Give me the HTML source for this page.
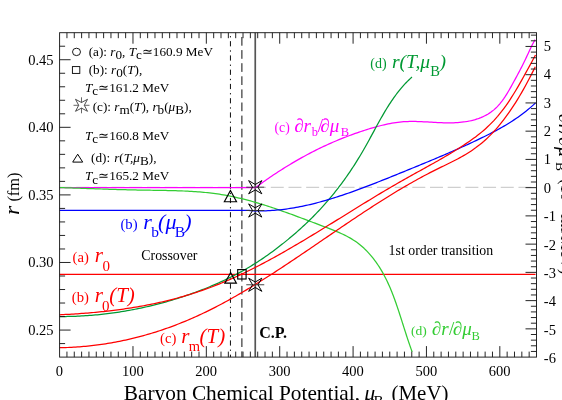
<!DOCTYPE html><html><head><meta charset="utf-8"><title>chart</title><style>
html,body{margin:0;padding:0;background:#fff;}body{width:562px;height:400px;overflow:hidden;}
svg{display:block;font-family:"Liberation Serif",serif;will-change:transform;}
.t{font-size:14.5px;fill:#000}.u{font-size:13.85px}.i{font-style:italic}
</style></head><body>
<svg width="562" height="400" viewBox="0 0 562 400">
<rect width="562" height="400" fill="#fff"/>
<line x1="59.60" y1="187.30" x2="536.50" y2="187.30" stroke="#c4c4c4" stroke-width="1" stroke-dasharray="13,4.69" stroke-dashoffset="1.1"/>
<line x1="230.45" y1="32.70" x2="230.45" y2="357.10" stroke="#000" stroke-width="0.95" stroke-dasharray="5.2,4.0,1.3,3.75" stroke-dashoffset="5.8"/>
<line x1="241.9" y1="32.70" x2="241.9" y2="357.10" stroke="#000" stroke-width="0.95" stroke-dasharray="8.7,4.4" stroke-dashoffset="8.8"/>
<line x1="255.25" y1="32.70" x2="255.25" y2="357.10" stroke="#555" stroke-width="1.7"/>
<path d="M59.60,274.4 L535.50,274.4" fill="none" stroke="#ff0000" stroke-width="1.25" stroke-linejoin="round"/>
<path d="M59.60,187.7 L255.2,187.7 L255.57,187.58 L257.14,186.42 L258.71,185.27 L260.30,184.12 L261.89,182.97 L263.49,181.83 L265.09,180.70 L266.71,179.57 L268.33,178.44 L269.96,177.32 L271.59,176.21 L273.23,175.10 L274.88,174.00 L276.54,172.91 L278.20,171.82 L279.87,170.74 L281.55,169.67 L283.23,168.61 L284.92,167.55 L286.62,166.50 L288.32,165.45 L290.03,164.42 L291.75,163.39 L293.47,162.37 L295.20,161.36 L296.93,160.36 L298.68,159.36 L300.42,158.38 L302.17,157.40 L303.93,156.43 L305.70,155.48 L307.47,154.53 L309.24,153.59 L311.02,152.66 L312.81,151.74 L314.60,150.83 L316.40,149.93 L318.20,149.04 L320.01,148.16 L321.83,147.29 L323.64,146.44 L325.47,145.59 L327.30,144.75 L329.13,143.92 L330.97,143.11 L332.81,142.30 L334.66,141.51 L336.51,140.72 L338.37,139.95 L340.23,139.18 L342.10,138.43 L343.97,137.69 L345.84,136.96 L347.72,136.23 L349.60,135.52 L351.49,134.82 L353.38,134.14 L355.28,133.46 L357.18,132.79 L359.08,132.13 L360.99,131.49 L362.90,130.85 L364.81,130.23 L366.73,129.62 L368.65,129.01 L370.58,128.43 L372.50,127.86 L374.43,127.30 L376.37,126.76 L378.31,126.24 L380.25,125.74 L382.19,125.26 L384.14,124.80 L386.09,124.37 L388.04,123.96 L390.00,123.58 L391.95,123.22 L393.91,122.90 L395.88,122.60 L397.84,122.34 L399.81,122.11 L401.78,121.91 L403.75,121.74 L405.73,121.62 L407.70,121.53 L409.68,121.47 L411.66,121.44 L413.65,121.44 L415.63,121.47 L417.62,121.51 L419.61,121.58 L421.60,121.66 L423.59,121.76 L425.58,121.86 L427.58,121.98 L429.57,122.09 L431.57,122.21 L433.57,122.33 L435.57,122.44 L437.57,122.55 L439.57,122.64 L441.57,122.73 L443.58,122.80 L445.58,122.84 L447.59,122.87 L449.59,122.87 L451.60,122.85 L453.61,122.80 L455.62,122.71 L457.62,122.58 L459.63,122.42 L461.62,122.22 L463.61,121.98 L465.59,121.70 L467.56,121.37 L469.51,120.99 L471.45,120.57 L473.36,120.09 L475.26,119.56 L477.13,118.97 L478.98,118.33 L480.81,117.62 L482.60,116.86 L484.36,116.03 L486.09,115.13 L487.78,114.17 L489.44,113.14 L491.05,112.04 L492.63,110.86 L494.16,109.61 L495.64,108.27 L497.07,106.86 L498.46,105.38 L499.81,103.83 L501.11,102.22 L502.37,100.56 L503.59,98.86 L504.78,97.12 L505.93,95.35 L507.05,93.56 L508.14,91.76 L509.20,89.95 L510.24,88.14 L511.25,86.34 L512.24,84.55 L513.21,82.79 L514.16,81.05 L515.09,79.34 L516.02,77.65 L516.92,75.97 L517.82,74.31 L518.70,72.64 L519.58,70.98 L520.45,69.32 L521.31,67.64 L522.17,65.96 L523.03,64.25 L523.88,62.52 L524.74,60.76 L525.60,58.97 L526.46,57.14 L527.32,55.28 L528.19,53.40 L529.07,51.50 L529.96,49.61 L530.86,47.72 L531.77,45.85 L532.69,44.01 L533.63,42.21 L534.59,40.46 L535.06,39.62" fill="none" stroke="#ff00ff" stroke-width="1.25" stroke-linejoin="round"/>
<path d="M59.74,187.57 L61.71,187.63 L63.67,187.69 L65.64,187.76 L67.61,187.82 L69.58,187.89 L71.56,187.96 L73.54,188.02 L75.52,188.09 L77.50,188.16 L79.48,188.23 L81.47,188.30 L83.45,188.37 L85.44,188.44 L87.43,188.51 L89.43,188.58 L91.42,188.65 L93.42,188.72 L95.41,188.79 L97.41,188.86 L99.41,188.93 L101.41,189.00 L103.41,189.07 L105.42,189.14 L107.42,189.20 L109.43,189.27 L111.43,189.33 L113.44,189.39 L115.45,189.46 L117.46,189.52 L119.47,189.58 L121.48,189.63 L123.49,189.69 L125.50,189.74 L127.51,189.79 L129.52,189.85 L131.54,189.89 L133.55,189.94 L135.56,189.98 L137.57,190.03 L139.59,190.06 L141.60,190.10 L143.61,190.14 L145.62,190.17 L147.64,190.20 L149.65,190.23 L151.66,190.25 L153.67,190.28 L155.68,190.31 L157.69,190.34 L159.70,190.37 L161.71,190.40 L163.72,190.43 L165.73,190.47 L167.74,190.51 L169.74,190.55 L171.75,190.60 L173.75,190.65 L175.76,190.71 L177.76,190.77 L179.76,190.84 L181.76,190.91 L183.76,191.00 L185.75,191.09 L187.75,191.18 L189.74,191.29 L191.73,191.40 L193.72,191.53 L195.71,191.66 L197.70,191.81 L199.68,191.96 L201.67,192.13 L203.65,192.31 L205.62,192.50 L207.60,192.71 L209.58,192.92 L211.55,193.16 L213.52,193.40 L215.49,193.66 L217.45,193.94 L219.41,194.23 L221.37,194.54 L223.33,194.87 L225.29,195.21 L227.24,195.56 L229.19,195.94 L231.14,196.33 L233.08,196.73 L235.02,197.15 L236.96,197.58 L238.90,198.02 L240.84,198.48 L242.77,198.96 L244.70,199.44 L246.63,199.94 L248.56,200.45 L250.48,200.97 L252.41,201.50 L254.33,202.05 L256.25,202.60 L258.17,203.17 L260.08,203.74 L262.00,204.32 L263.91,204.92 L265.82,205.52 L267.73,206.13 L269.64,206.75 L271.54,207.38 L273.45,208.02 L275.35,208.66 L277.25,209.31 L279.15,209.96 L281.05,210.63 L282.95,211.29 L284.85,211.97 L286.74,212.65 L288.64,213.33 L290.53,214.02 L292.42,214.71 L294.31,215.40 L296.20,216.10 L298.09,216.80 L299.98,217.51 L301.87,218.22 L303.75,218.93 L305.64,219.64 L307.52,220.35 L309.41,221.06 L311.29,221.77 L313.17,222.49 L315.06,223.20 L316.94,223.91 L318.82,224.63 L320.70,225.34 L322.58,226.05 L324.46,226.76 L326.34,227.46 L328.22,228.18 L330.09,228.89 L331.95,229.62 L333.81,230.36 L335.65,231.11 L337.49,231.87 L339.31,232.66 L341.12,233.46 L342.91,234.29 L344.69,235.15 L346.44,236.03 L348.18,236.95 L349.89,237.90 L351.58,238.88 L353.24,239.91 L354.88,240.98 L356.49,242.09 L358.07,243.25 L359.62,244.45 L361.13,245.70 L362.62,247.00 L364.08,248.33 L365.51,249.71 L366.91,251.12 L368.27,252.57 L369.61,254.06 L370.92,255.57 L372.20,257.12 L373.45,258.70 L374.67,260.30 L375.86,261.93 L377.02,263.59 L378.15,265.27 L379.25,266.96 L380.32,268.68 L381.37,270.41 L382.39,272.15 L383.37,273.91 L384.33,275.69 L385.26,277.47 L386.17,279.26 L387.05,281.06 L387.90,282.87 L388.74,284.70 L389.55,286.52 L390.34,288.36 L391.11,290.21 L391.86,292.06 L392.60,293.92 L393.31,295.79 L394.02,297.66 L394.71,299.54 L395.38,301.42 L396.05,303.31 L396.70,305.20 L397.35,307.09 L397.98,308.99 L398.61,310.90 L399.24,312.80 L399.86,314.71 L400.47,316.61 L401.08,318.52 L401.69,320.43 L402.30,322.34 L402.91,324.25 L403.51,326.16 L404.12,328.07 L404.73,329.98 L405.34,331.88 L405.96,333.79 L406.57,335.69 L407.20,337.58 L407.82,339.47 L408.45,341.36 L409.09,343.25 L409.74,345.13 L410.39,347.00 L411.05,348.87 L411.72,350.73 L412.15,351.89" fill="none" stroke="#33cc33" stroke-width="1.25" stroke-linejoin="round"/>
<path d="M59.78,316.53 L61.76,316.53 L63.73,316.53 L65.71,316.51 L67.68,316.48 L69.66,316.44 L71.64,316.39 L73.62,316.33 L75.60,316.26 L77.58,316.18 L79.56,316.09 L81.55,315.98 L83.53,315.87 L85.51,315.74 L87.50,315.61 L89.48,315.46 L91.47,315.31 L93.45,315.14 L95.44,314.96 L97.42,314.78 L99.41,314.58 L101.39,314.37 L103.38,314.15 L105.36,313.92 L107.34,313.68 L109.33,313.43 L111.31,313.17 L113.29,312.90 L115.27,312.62 L117.25,312.33 L119.23,312.03 L121.21,311.72 L123.19,311.39 L125.17,311.06 L127.14,310.72 L129.12,310.37 L131.09,310.01 L133.06,309.63 L135.03,309.25 L137.00,308.86 L138.96,308.45 L140.93,308.04 L142.89,307.62 L144.85,307.19 L146.81,306.74 L148.77,306.29 L150.72,305.83 L152.67,305.36 L154.62,304.88 L156.57,304.38 L158.51,303.88 L160.46,303.37 L162.39,302.85 L164.33,302.32 L166.26,301.78 L168.20,301.23 L170.12,300.67 L172.05,300.10 L173.97,299.52 L175.89,298.93 L177.80,298.33 L179.71,297.72 L181.62,297.11 L183.53,296.48 L185.43,295.84 L187.32,295.20 L189.22,294.54 L191.11,293.87 L192.99,293.20 L194.87,292.52 L196.75,291.82 L198.62,291.12 L200.49,290.41 L202.35,289.69 L204.21,288.96 L206.07,288.22 L207.92,287.47 L209.76,286.71 L211.61,285.94 L213.44,285.16 L215.27,284.37 L217.10,283.57 L218.92,282.76 L220.73,281.94 L222.54,281.10 L224.35,280.26 L226.15,279.40 L227.94,278.54 L229.73,277.66 L231.51,276.77 L233.29,275.87 L235.06,274.96 L236.83,274.03 L238.58,273.10 L240.34,272.15 L242.08,271.19 L243.82,270.21 L245.56,269.22 L247.29,268.22 L249.01,267.21 L250.72,266.18 L252.43,265.14 L254.13,264.09 L255.83,263.02 L257.51,261.94 L259.19,260.84 L260.87,259.73 L262.53,258.61 L264.19,257.48 L265.84,256.34 L267.49,255.18 L269.12,254.02 L270.75,252.84 L272.37,251.65 L273.99,250.46 L275.59,249.26 L277.19,248.04 L278.78,246.82 L280.36,245.60 L281.94,244.36 L283.50,243.12 L285.06,241.87 L286.61,240.62 L288.15,239.36 L289.68,238.09 L291.21,236.81 L292.72,235.52 L294.23,234.23 L295.73,232.93 L297.22,231.62 L298.70,230.31 L300.18,228.98 L301.64,227.65 L303.10,226.31 L304.55,224.96 L305.99,223.61 L307.42,222.24 L308.85,220.87 L310.26,219.48 L311.67,218.09 L313.06,216.69 L314.45,215.29 L315.83,213.87 L317.20,212.44 L318.57,211.01 L319.92,209.56 L321.26,208.11 L322.60,206.64 L323.93,205.17 L325.25,203.69 L326.56,202.20 L327.86,200.69 L329.15,199.18 L330.43,197.66 L331.70,196.13 L332.97,194.59 L334.23,193.04 L335.47,191.48 L336.71,189.90 L337.94,188.32 L339.16,186.73 L340.37,185.14 L341.57,183.53 L342.76,181.91 L343.94,180.28 L345.12,178.65 L346.28,177.01 L347.44,175.36 L348.58,173.70 L349.72,172.03 L350.85,170.36 L351.96,168.68 L353.07,166.99 L354.17,165.30 L355.26,163.60 L356.34,161.89 L357.41,160.17 L358.47,158.45 L359.52,156.73 L360.56,154.99 L361.59,153.26 L362.62,151.51 L363.63,149.76 L364.63,148.01 L365.63,146.25 L366.61,144.49 L367.59,142.72 L368.57,140.95 L369.54,139.19 L370.50,137.41 L371.46,135.64 L372.42,133.87 L373.38,132.10 L374.34,130.33 L375.30,128.57 L376.26,126.81 L377.22,125.05 L378.18,123.29 L379.15,121.54 L380.13,119.80 L381.11,118.06 L382.10,116.33 L383.09,114.60 L384.10,112.89 L385.11,111.18 L386.13,109.48 L387.17,107.79 L388.22,106.12 L389.28,104.45 L390.36,102.80 L391.45,101.16 L392.55,99.54 L393.68,97.93 L394.82,96.33 L395.98,94.75 L397.16,93.19 L398.37,91.64 L399.59,90.11 L400.83,88.60 L402.10,87.10 L403.40,85.63 L404.72,84.18 L406.06,82.75 L407.43,81.34 L408.83,79.95 L410.26,78.58 L411.72,77.24 L411.96,77.03" fill="none" stroke="#009933" stroke-width="1.25" stroke-linejoin="round"/>
<path d="M59.60,210.45 L250,210.45 L250.00,210.63 L252.00,210.73 L254.00,210.81 L256.00,210.86 L258.00,210.89 L260.00,210.90 L262.00,210.88 L264.00,210.84 L266.00,210.78 L268.00,210.70 L270.00,210.60 L272.00,210.47 L274.00,210.33 L276.00,210.16 L278.00,209.97 L280.00,209.77 L282.00,209.54 L284.00,209.30 L286.00,209.03 L288.00,208.75 L290.00,208.45 L292.00,208.13 L294.00,207.80 L296.00,207.45 L298.00,207.08 L300.00,206.69 L302.00,206.29 L304.00,205.87 L306.00,205.44 L308.00,204.99 L310.00,204.52 L312.00,204.04 L314.00,203.55 L316.00,203.04 L318.00,202.52 L320.00,201.98 L322.00,201.43 L324.00,200.87 L326.00,200.30 L328.00,199.71 L330.00,199.12 L332.00,198.51 L334.00,197.89 L336.00,197.26 L338.00,196.61 L340.00,195.96 L342.00,195.30 L344.00,194.63 L346.00,193.95 L348.00,193.26 L350.00,192.56 L352.00,191.85 L354.00,191.13 L356.00,190.41 L358.00,189.68 L360.00,188.94 L362.00,188.20 L364.00,187.45 L366.00,186.69 L368.00,185.93 L370.00,185.16 L372.00,184.39 L374.00,183.61 L376.00,182.82 L378.00,182.04 L380.00,181.24 L382.00,180.45 L384.00,179.65 L386.00,178.85 L388.00,178.05 L390.00,177.24 L392.00,176.43 L394.00,175.62 L396.00,174.81 L398.00,174.00 L400.00,173.18 L402.00,172.37 L404.00,171.55 L406.00,170.74 L408.00,169.93 L410.00,169.11 L412.00,168.29 L414.00,167.48 L416.00,166.66 L418.00,165.84 L420.00,165.02 L422.00,164.19 L424.00,163.37 L426.00,162.54 L428.00,161.71 L430.00,160.88 L432.00,160.04 L434.00,159.21 L436.00,158.37 L438.00,157.52 L440.00,156.67 L442.00,155.82 L444.00,154.96 L446.00,154.10 L448.00,153.24 L450.00,152.37 L452.00,151.50 L454.00,150.62 L456.00,149.73 L458.00,148.84 L460.00,147.95 L462.00,147.05 L464.00,146.14 L466.00,145.23 L468.00,144.31 L470.00,143.39 L472.00,142.45 L474.00,141.51 L476.00,140.57 L478.00,139.61 L480.00,138.65 L482.00,137.68 L484.00,136.71 L486.00,135.72 L488.00,134.72 L490.00,133.71 L492.00,132.68 L494.00,131.64 L496.00,130.58 L498.00,129.50 L500.00,128.39 L502.00,127.27 L504.00,126.11 L506.00,124.93 L508.00,123.72 L510.00,122.47 L512.00,121.19 L514.00,119.88 L516.00,118.53 L518.00,117.14 L520.00,115.71 L522.00,114.23 L524.00,112.71 L526.00,111.15 L528.00,109.54 L530.00,107.87 L532.00,106.15 L534.00,104.38 L535.50,103.02" fill="none" stroke="#0000ff" stroke-width="1.25" stroke-linejoin="round"/>
<path d="M59.60,314.78 L61.60,314.69 L63.60,314.59 L65.60,314.48 L67.60,314.38 L69.60,314.26 L71.60,314.14 L73.60,314.02 L75.60,313.89 L77.60,313.76 L79.60,313.62 L81.60,313.48 L83.60,313.33 L85.60,313.18 L87.60,313.02 L89.60,312.85 L91.60,312.68 L93.60,312.50 L95.60,312.32 L97.60,312.13 L99.60,311.93 L101.60,311.73 L103.60,311.52 L105.60,311.30 L107.60,311.08 L109.60,310.84 L111.60,310.61 L113.60,310.36 L115.60,310.11 L117.60,309.85 L119.60,309.58 L121.60,309.31 L123.60,309.03 L125.60,308.73 L127.60,308.44 L129.60,308.13 L131.60,307.81 L133.60,307.49 L135.60,307.16 L137.60,306.82 L139.60,306.47 L141.60,306.11 L143.60,305.74 L145.60,305.36 L147.60,304.97 L149.60,304.58 L151.60,304.17 L153.60,303.76 L155.60,303.33 L157.60,302.90 L159.60,302.45 L161.60,302.00 L163.60,301.53 L165.60,301.06 L167.60,300.57 L169.60,300.08 L171.60,299.57 L173.60,299.05 L175.60,298.52 L177.60,297.98 L179.60,297.43 L181.60,296.86 L183.60,296.29 L185.60,295.70 L187.60,295.11 L189.60,294.50 L191.60,293.88 L193.60,293.24 L195.60,292.60 L197.60,291.94 L199.60,291.27 L201.60,290.58 L203.60,289.89 L205.60,289.18 L207.60,288.46 L209.60,287.72 L211.60,286.97 L213.60,286.21 L215.60,285.44 L217.60,284.65 L219.60,283.85 L221.60,283.03 L223.60,282.20 L225.60,281.36 L227.60,280.51 L229.60,279.64 L231.60,278.76 L233.60,277.86 L235.60,276.96 L237.60,276.04 L239.60,275.11 L241.60,274.17 L243.60,273.21 L245.60,272.25 L247.60,271.27 L249.60,270.29 L251.60,269.29 L253.60,268.28 L255.60,267.27 L257.60,266.24 L259.60,265.20 L261.60,264.16 L263.60,263.10 L265.60,262.04 L267.60,260.97 L269.60,259.89 L271.60,258.80 L273.60,257.70 L275.60,256.59 L277.60,255.48 L279.60,254.36 L281.60,253.23 L283.60,252.10 L285.60,250.96 L287.60,249.81 L289.60,248.65 L291.60,247.49 L293.60,246.33 L295.60,245.16 L297.60,243.98 L299.60,242.80 L301.60,241.61 L303.60,240.42 L305.60,239.22 L307.60,238.02 L309.60,236.82 L311.60,235.61 L313.60,234.40 L315.60,233.18 L317.60,231.96 L319.60,230.74 L321.60,229.51 L323.60,228.29 L325.60,227.06 L327.60,225.83 L329.60,224.59 L331.60,223.36 L333.60,222.12 L335.60,220.88 L337.60,219.65 L339.60,218.41 L341.60,217.17 L343.60,215.93 L345.60,214.69 L347.60,213.45 L349.60,212.21 L351.60,210.97 L353.60,209.74 L355.60,208.50 L357.60,207.27 L359.60,206.03 L361.60,204.80 L363.60,203.58 L365.60,202.35 L367.60,201.13 L369.60,199.91 L371.60,198.69 L373.60,197.48 L375.60,196.27 L377.60,195.06 L379.60,193.86 L381.60,192.66 L383.60,191.47 L385.60,190.28 L387.60,189.10 L389.60,187.92 L391.60,186.75 L393.60,185.59 L395.60,184.43 L397.60,183.27 L399.60,182.12 L401.60,180.98 L403.60,179.85 L405.60,178.72 L407.60,177.60 L409.60,176.49 L411.60,175.37 L413.60,174.27 L415.60,173.16 L417.60,172.05 L419.60,170.95 L421.60,169.85 L423.60,168.74 L425.60,167.64 L427.60,166.53 L429.60,165.42 L431.60,164.30 L433.60,163.18 L435.60,162.05 L437.60,160.92 L439.60,159.78 L441.60,158.63 L443.60,157.47 L445.60,156.30 L447.60,155.12 L449.60,153.93 L451.60,152.73 L453.60,151.51 L455.60,150.28 L457.60,149.04 L459.60,147.78 L461.60,146.50 L463.60,145.21 L465.60,143.89 L467.60,142.56 L469.60,141.19 L471.60,139.80 L473.60,138.36 L475.60,136.88 L477.60,135.36 L479.60,133.78 L481.60,132.14 L483.60,130.44 L485.60,128.67 L487.60,126.83 L489.60,124.91 L491.60,122.91 L493.60,120.82 L495.60,118.63 L497.60,116.35 L499.60,113.96 L501.60,111.47 L503.60,108.86 L505.60,106.14 L507.60,103.29 L509.60,100.31 L511.60,97.21 L513.60,94.01 L515.60,90.70 L517.60,87.31 L519.60,83.85 L521.60,80.33 L523.60,76.75 L525.60,73.14 L527.60,69.50 L529.60,65.84 L531.60,62.18 L533.60,58.52 L535.50,55.07" fill="none" stroke="#ff0000" stroke-width="1.25" stroke-linejoin="round"/>
<path d="M59.60,347.72 L61.60,347.68 L63.60,347.63 L65.60,347.57 L67.60,347.50 L69.60,347.41 L71.60,347.31 L73.60,347.20 L75.60,347.08 L77.60,346.95 L79.60,346.80 L81.60,346.64 L83.60,346.47 L85.60,346.29 L87.60,346.09 L89.60,345.89 L91.60,345.67 L93.60,345.43 L95.60,345.19 L97.60,344.93 L99.60,344.66 L101.60,344.38 L103.60,344.09 L105.60,343.78 L107.60,343.47 L109.60,343.14 L111.60,342.79 L113.60,342.44 L115.60,342.07 L117.60,341.69 L119.60,341.29 L121.60,340.89 L123.60,340.47 L125.60,340.04 L127.60,339.59 L129.60,339.14 L131.60,338.67 L133.60,338.18 L135.60,337.69 L137.60,337.18 L139.60,336.66 L141.60,336.13 L143.60,335.58 L145.60,335.02 L147.60,334.45 L149.60,333.86 L151.60,333.26 L153.60,332.65 L155.60,332.03 L157.60,331.39 L159.60,330.74 L161.60,330.07 L163.60,329.40 L165.60,328.71 L167.60,328.00 L169.60,327.29 L171.60,326.56 L173.60,325.81 L175.60,325.05 L177.60,324.28 L179.60,323.50 L181.60,322.70 L183.60,321.89 L185.60,321.07 L187.60,320.23 L189.60,319.38 L191.60,318.52 L193.60,317.64 L195.60,316.75 L197.60,315.84 L199.60,314.92 L201.60,313.99 L203.60,313.04 L205.60,312.09 L207.60,311.11 L209.60,310.13 L211.60,309.13 L213.60,308.11 L215.60,307.09 L217.60,306.05 L219.60,305.00 L221.60,303.94 L223.60,302.87 L225.60,301.78 L227.60,300.69 L229.60,299.58 L231.60,298.46 L233.60,297.33 L235.60,296.20 L237.60,295.05 L239.60,293.89 L241.60,292.72 L243.60,291.55 L245.60,290.36 L247.60,289.16 L249.60,287.96 L251.60,286.75 L253.60,285.53 L255.60,284.30 L257.60,283.06 L259.60,281.82 L261.60,280.56 L263.60,279.31 L265.60,278.04 L267.60,276.77 L269.60,275.49 L271.60,274.20 L273.60,272.91 L275.60,271.62 L277.60,270.31 L279.60,269.01 L281.60,267.69 L283.60,266.37 L285.60,265.05 L287.60,263.73 L289.60,262.39 L291.60,261.06 L293.60,259.72 L295.60,258.38 L297.60,257.03 L299.60,255.68 L301.60,254.33 L303.60,252.98 L305.60,251.62 L307.60,250.26 L309.60,248.90 L311.60,247.54 L313.60,246.18 L315.60,244.81 L317.60,243.45 L319.60,242.08 L321.60,240.72 L323.60,239.35 L325.60,237.98 L327.60,236.62 L329.60,235.25 L331.60,233.88 L333.60,232.52 L335.60,231.16 L337.60,229.80 L339.60,228.44 L341.60,227.08 L343.60,225.72 L345.60,224.37 L347.60,223.02 L349.60,221.67 L351.60,220.33 L353.60,218.99 L355.60,217.65 L357.60,216.32 L359.60,214.99 L361.60,213.66 L363.60,212.34 L365.60,211.03 L367.60,209.72 L369.60,208.41 L371.60,207.11 L373.60,205.82 L375.60,204.53 L377.60,203.25 L379.60,201.98 L381.60,200.71 L383.60,199.45 L385.60,198.20 L387.60,196.95 L389.60,195.71 L391.60,194.48 L393.60,193.26 L395.60,192.05 L397.60,190.84 L399.60,189.65 L401.60,188.46 L403.60,187.29 L405.60,186.12 L407.60,184.96 L409.60,183.81 L411.60,182.68 L413.60,181.55 L415.60,180.43 L417.60,179.32 L419.60,178.23 L421.60,177.14 L423.60,176.07 L425.60,175.01 L427.60,173.96 L429.60,172.92 L431.60,171.89 L433.60,170.87 L435.60,169.87 L437.60,168.88 L439.60,167.89 L441.60,166.92 L443.60,165.95 L445.60,164.98 L447.60,164.01 L449.60,163.03 L451.60,162.04 L453.60,161.04 L455.60,160.01 L457.60,158.96 L459.60,157.89 L461.60,156.78 L463.60,155.64 L465.60,154.47 L467.60,153.24 L469.60,151.98 L471.60,150.66 L473.60,149.29 L475.60,147.86 L477.60,146.36 L479.60,144.81 L481.60,143.18 L483.60,141.48 L485.60,139.70 L487.60,137.84 L489.60,135.91 L491.60,133.89 L493.60,131.78 L495.60,129.59 L497.60,127.30 L499.60,124.93 L501.60,122.46 L503.60,119.90 L505.60,117.24 L507.60,114.49 L509.60,111.65 L511.60,108.71 L513.60,105.67 L515.60,102.54 L517.60,99.31 L519.60,95.99 L521.60,92.58 L523.60,89.07 L525.60,85.47 L527.60,81.78 L529.60,78.00 L531.60,74.12 L533.60,70.15 L535.30,66.71" fill="none" stroke="#ff0000" stroke-width="1.25" stroke-linejoin="round"/>
<rect x="59.60" y="32.70" width="476.90" height="324.40" fill="none" stroke="#1a1a1a" stroke-width="0.95"/>
<path d="M66.94,357.10 v-5.50 M66.94,32.70 v5.50 M74.27,357.10 v-5.50 M74.27,32.70 v5.50 M81.61,357.10 v-5.50 M81.61,32.70 v5.50 M88.95,357.10 v-5.50 M88.95,32.70 v5.50 M96.28,357.10 v-5.50 M96.28,32.70 v5.50 M103.62,357.10 v-5.50 M103.62,32.70 v5.50 M110.96,357.10 v-5.50 M110.96,32.70 v5.50 M118.30,357.10 v-5.50 M118.30,32.70 v5.50 M125.63,357.10 v-5.50 M125.63,32.70 v5.50 M132.97,357.10 v-11.00 M132.97,32.70 v11.00 M140.31,357.10 v-5.50 M140.31,32.70 v5.50 M147.64,357.10 v-5.50 M147.64,32.70 v5.50 M154.98,357.10 v-5.50 M154.98,32.70 v5.50 M162.32,357.10 v-5.50 M162.32,32.70 v5.50 M169.65,357.10 v-5.50 M169.65,32.70 v5.50 M176.99,357.10 v-5.50 M176.99,32.70 v5.50 M184.33,357.10 v-5.50 M184.33,32.70 v5.50 M191.66,357.10 v-5.50 M191.66,32.70 v5.50 M199.00,357.10 v-5.50 M199.00,32.70 v5.50 M206.34,357.10 v-11.00 M206.34,32.70 v11.00 M213.68,357.10 v-5.50 M213.68,32.70 v5.50 M221.01,357.10 v-5.50 M221.01,32.70 v5.50 M228.35,357.10 v-5.50 M228.35,32.70 v5.50 M235.69,357.10 v-5.50 M235.69,32.70 v5.50 M243.02,357.10 v-5.50 M243.02,32.70 v5.50 M250.36,357.10 v-5.50 M250.36,32.70 v5.50 M257.70,357.10 v-5.50 M257.70,32.70 v5.50 M265.03,357.10 v-5.50 M265.03,32.70 v5.50 M272.37,357.10 v-5.50 M272.37,32.70 v5.50 M279.71,357.10 v-11.00 M279.71,32.70 v11.00 M287.04,357.10 v-5.50 M287.04,32.70 v5.50 M294.38,357.10 v-5.50 M294.38,32.70 v5.50 M301.72,357.10 v-5.50 M301.72,32.70 v5.50 M309.06,357.10 v-5.50 M309.06,32.70 v5.50 M316.39,357.10 v-5.50 M316.39,32.70 v5.50 M323.73,357.10 v-5.50 M323.73,32.70 v5.50 M331.07,357.10 v-5.50 M331.07,32.70 v5.50 M338.40,357.10 v-5.50 M338.40,32.70 v5.50 M345.74,357.10 v-5.50 M345.74,32.70 v5.50 M353.08,357.10 v-11.00 M353.08,32.70 v11.00 M360.41,357.10 v-5.50 M360.41,32.70 v5.50 M367.75,357.10 v-5.50 M367.75,32.70 v5.50 M375.09,357.10 v-5.50 M375.09,32.70 v5.50 M382.42,357.10 v-5.50 M382.42,32.70 v5.50 M389.76,357.10 v-5.50 M389.76,32.70 v5.50 M397.10,357.10 v-5.50 M397.10,32.70 v5.50 M404.44,357.10 v-5.50 M404.44,32.70 v5.50 M411.77,357.10 v-5.50 M411.77,32.70 v5.50 M419.11,357.10 v-5.50 M419.11,32.70 v5.50 M426.45,357.10 v-11.00 M426.45,32.70 v11.00 M433.78,357.10 v-5.50 M433.78,32.70 v5.50 M441.12,357.10 v-5.50 M441.12,32.70 v5.50 M448.46,357.10 v-5.50 M448.46,32.70 v5.50 M455.79,357.10 v-5.50 M455.79,32.70 v5.50 M463.13,357.10 v-5.50 M463.13,32.70 v5.50 M470.47,357.10 v-5.50 M470.47,32.70 v5.50 M477.80,357.10 v-5.50 M477.80,32.70 v5.50 M485.14,357.10 v-5.50 M485.14,32.70 v5.50 M492.48,357.10 v-5.50 M492.48,32.70 v5.50 M499.82,357.10 v-11.00 M499.82,32.70 v11.00 M507.15,357.10 v-5.50 M507.15,32.70 v5.50 M514.49,357.10 v-5.50 M514.49,32.70 v5.50 M521.83,357.10 v-5.50 M521.83,32.70 v5.50 M529.16,357.10 v-5.50 M529.16,32.70 v5.50 M59.60,343.58 h5.50 M59.60,330.07 h11.00 M59.60,316.55 h5.50 M59.60,303.03 h5.50 M59.60,289.52 h5.50 M59.60,276.00 h5.50 M59.60,262.48 h11.00 M59.60,248.97 h5.50 M59.60,235.45 h5.50 M59.60,221.93 h5.50 M59.60,208.42 h5.50 M59.60,194.90 h11.00 M59.60,181.38 h5.50 M59.60,167.87 h5.50 M59.60,154.35 h5.50 M59.60,140.83 h5.50 M59.60,127.32 h11.00 M59.60,113.80 h5.50 M59.60,100.28 h5.50 M59.60,86.77 h5.50 M59.60,73.25 h5.50 M59.60,59.73 h11.00 M59.60,46.22 h5.50 M536.50,351.44 h-5.60 M536.50,345.79 h-5.60 M536.50,340.15 h-5.60 M536.50,334.50 h-5.60 M536.50,328.85 h-11.00 M536.50,323.20 h-5.60 M536.50,317.55 h-5.60 M536.50,311.91 h-5.60 M536.50,306.26 h-5.60 M536.50,300.61 h-11.00 M536.50,294.96 h-5.60 M536.50,289.31 h-5.60 M536.50,283.67 h-5.60 M536.50,278.02 h-5.60 M536.50,272.37 h-11.00 M536.50,266.72 h-5.60 M536.50,261.07 h-5.60 M536.50,255.43 h-5.60 M536.50,249.78 h-5.60 M536.50,244.13 h-11.00 M536.50,238.48 h-5.60 M536.50,232.83 h-5.60 M536.50,227.19 h-5.60 M536.50,221.54 h-5.60 M536.50,215.89 h-11.00 M536.50,210.24 h-5.60 M536.50,204.59 h-5.60 M536.50,198.95 h-5.60 M536.50,193.30 h-5.60 M536.50,187.65 h-11.00 M536.50,182.00 h-5.60 M536.50,176.35 h-5.60 M536.50,170.71 h-5.60 M536.50,165.06 h-5.60 M536.50,159.41 h-11.00 M536.50,153.76 h-5.60 M536.50,148.11 h-5.60 M536.50,142.47 h-5.60 M536.50,136.82 h-5.60 M536.50,131.17 h-11.00 M536.50,125.52 h-5.60 M536.50,119.87 h-5.60 M536.50,114.23 h-5.60 M536.50,108.58 h-5.60 M536.50,102.93 h-11.00 M536.50,97.28 h-5.60 M536.50,91.63 h-5.60 M536.50,85.99 h-5.60 M536.50,80.34 h-5.60 M536.50,74.69 h-11.00 M536.50,69.04 h-5.60 M536.50,63.39 h-5.60 M536.50,57.75 h-5.60 M536.50,52.10 h-5.60 M536.50,46.45 h-11.00 M536.50,40.80 h-5.60 M536.50,35.15 h-5.60" stroke="#1a1a1a" stroke-width="0.95" fill="none"/>
<text class="t" x="59.40" y="375.8" text-anchor="middle">0</text>
<text class="t" x="132.77" y="375.8" text-anchor="middle">100</text>
<text class="t" x="206.14" y="375.8" text-anchor="middle">200</text>
<text class="t" x="279.51" y="375.8" text-anchor="middle">300</text>
<text class="t" x="352.88" y="375.8" text-anchor="middle">400</text>
<text class="t" x="426.25" y="375.8" text-anchor="middle">500</text>
<text class="t" x="499.62" y="375.8" text-anchor="middle">600</text>
<text class="t" x="53.6" y="335.07" text-anchor="end">0.25</text>
<text class="t" x="53.6" y="267.48" text-anchor="end">0.30</text>
<text class="t" x="53.6" y="199.90" text-anchor="end">0.35</text>
<text class="t" x="53.6" y="132.32" text-anchor="end">0.40</text>
<text class="t" x="53.6" y="64.73" text-anchor="end">0.45</text>
<text class="t" x="543.8" y="362.96">-6</text>
<text class="t" x="543.8" y="334.60">-5</text>
<text class="t" x="543.8" y="306.24">-4</text>
<text class="t" x="543.8" y="277.88">-3</text>
<text class="t" x="543.8" y="249.52">-2</text>
<text class="t" x="543.8" y="221.16">-1</text>
<text class="t" x="543.8" y="192.80">0</text>
<text class="t" x="543.8" y="164.44">1</text>
<text class="t" x="543.8" y="136.08">2</text>
<text class="t" x="543.8" y="107.72">3</text>
<text class="t" x="543.8" y="79.36">4</text>
<text class="t" x="543.8" y="51.00">5</text>
<text y="399.6" font-size="21.8"><tspan x="123.8" textLength="236.3" lengthAdjust="spacingAndGlyphs">Baryon Chemical Potential,</tspan><tspan class="i" x="364.3">μ</tspan><tspan font-size="15" x="373.6" dy="6.5">B</tspan><tspan dy="-6.5" x="391.5" textLength="57" lengthAdjust="spacingAndGlyphs">(MeV)</tspan></text>
<text transform="translate(19.4,214.9) rotate(-90) scale(1.18,1)" font-size="20" class="i">r</text>
<text transform="translate(19.4,201.6) rotate(-90)" font-size="16.4">(fm)</text>
<text transform="translate(559.3,113.8) rotate(90)" font-size="16"><tspan class="i" font-size="20" x="0">∂r/∂μ</tspan><tspan font-size="13.5" x="48.3" dy="3.6">B</tspan><tspan dy="-5.7" x="65.5">(10</tspan><tspan font-size="11" dy="-6">-4</tspan><tspan dy="6"> fm/MeV)</tspan></text>
<path d="M246.25,187.20 h18.00" stroke="#333" stroke-width="0.9" fill="none"/>
<path d="M255.25,184.50 L261.85,180.60 L257.95,187.20 L261.85,193.80 L255.25,189.90 L248.65,193.80 L252.55,187.20 L248.65,180.60Z" fill="none" stroke="#000" stroke-width="1.0" stroke-linejoin="miter"/>
<path d="M246.25,210.50 h18.00" stroke="#333" stroke-width="0.9" fill="none"/>
<path d="M255.25,207.80 L261.85,203.90 L257.95,210.50 L261.85,217.10 L255.25,213.20 L248.65,217.10 L252.55,210.50 L248.65,203.90Z" fill="none" stroke="#000" stroke-width="1.0" stroke-linejoin="miter"/>
<path d="M246.25,284.75 h18.00" stroke="#333" stroke-width="0.9" fill="none"/>
<path d="M255.25,282.05 L261.85,278.15 L257.95,284.75 L261.85,291.35 L255.25,287.45 L248.65,291.35 L252.55,284.75 L248.65,278.15Z" fill="none" stroke="#000" stroke-width="1.0" stroke-linejoin="miter"/>
<path d="M230.45,190.40 L236.55,201.70 L224.35,201.70 Z" fill="none" stroke="#000" stroke-width="1.15"/>
<path d="M230.60,272.60 L236.40,283.10 L224.80,283.10 Z" fill="none" stroke="#000" stroke-width="1.15"/>
<rect x="237.7" y="269.6" width="8.4" height="9.4" fill="none" stroke="#000" stroke-width="1.15"/>
<ellipse cx="76.5" cy="51.9" rx="4.0" ry="3.7" fill="none" stroke="#000" stroke-width="0.9"/>
<rect x="72.4" y="66.6" width="7.4" height="6.8" fill="none" stroke="#000" stroke-width="0.9"/>
<path d="M73.50,105.30 h16.00 M81.50,97.30 v16.00" stroke="#333" stroke-width="0.75" fill="none"/>
<path d="M81.50,102.50 L87.50,99.30 L84.30,105.30 L87.50,111.30 L81.50,108.10 L75.50,111.30 L78.70,105.30 L75.50,99.30Z" fill="#fff" stroke="#222" stroke-width="0.8" stroke-linejoin="miter"/>
<path d="M77.70,154.20 L82.70,162.10 L72.70,162.10 Z" fill="none" stroke="#000" stroke-width="1.0"/>
<text x="88.70" y="55.60" font-size="13.2">(a): <tspan class="i">r</tspan><tspan dy="3.2">0</tspan><tspan dy="-3.2">&#8203;</tspan>, <tspan class="i">T</tspan><tspan dy="3.2">c</tspan><tspan dy="-3.2">&#8203;</tspan>≃160.9 MeV</text>
<text x="88.70" y="73.70" font-size="13.2">(b): <tspan class="i">r</tspan><tspan dy="3.2">0</tspan><tspan dy="-3.2">&#8203;</tspan>(<tspan class="i">T</tspan>),</text>
<text x="85.00" y="91.90" font-size="13.2"><tspan class="i">T</tspan><tspan dy="3.2">c</tspan><tspan dy="-3.2">&#8203;</tspan>≃161.2 MeV</text>
<text x="92.70" y="110.70" font-size="13.2">(c): <tspan class="i">r</tspan><tspan dy="3.2">m</tspan><tspan dy="-3.2">&#8203;</tspan>(<tspan class="i">T</tspan>), <tspan class="i">r</tspan><tspan dy="3.2">b</tspan><tspan dy="-3.2">&#8203;</tspan>(<tspan class="i">μ</tspan><tspan dy="3.2">B</tspan><tspan dy="-3.2">&#8203;</tspan>),</text>
<text x="85.00" y="139.80" font-size="13.2"><tspan class="i">T</tspan><tspan dy="3.2">c</tspan><tspan dy="-3.2">&#8203;</tspan>≃160.8 MeV</text>
<text x="91.00" y="162.20" font-size="13.2">(d): <tspan dx="0.8"><tspan class="i">r</tspan></tspan>(<tspan class="i">T,μ</tspan><tspan dy="3.2">B</tspan><tspan dy="-3.2">&#8203;</tspan>),</text>
<text x="85.00" y="180.30" font-size="13.2"><tspan class="i">T</tspan><tspan dy="3.2">c</tspan><tspan dy="-3.2">&#8203;</tspan>≃165.2 MeV</text>
<text x="120.40" y="229.00" fill="#0000ff" font-size="14.7">(b)</text>
<text x="143.20" y="229.00" fill="#0000ff" font-size="22.0" class="i">r<tspan font-size="15.5" font-style="normal" dy="7.8" dx="-0.6">b</tspan><tspan dy="-7.8" dx="-0.8">&#8203;</tspan>(μ<tspan font-size="15.5" font-style="normal" dy="7.8" dx="-1.8">B</tspan><tspan dy="-7.8" dx="-0.8">&#8203;</tspan>)</text>
<text x="72.50" y="261.80" fill="#ff0000" font-size="14.7">(a)</text>
<text x="94.70" y="261.80" fill="#ff0000" font-size="21.0" class="i">r<tspan font-size="15.0" font-style="normal" dy="9.3" dx="-0.5">0</tspan><tspan dy="-9.3" dx="0.0">&#8203;</tspan></text>
<text x="71.80" y="301.80" fill="#ff0000" font-size="14.7">(b)</text>
<text x="94.70" y="301.80" fill="#ff0000" font-size="21.0" class="i">r<tspan font-size="15.0" font-style="normal" dy="9.0" dx="-0.8">0</tspan><tspan dy="-9.0" dx="-0.4">&#8203;</tspan>(T)</text>
<text x="160.00" y="342.80" fill="#ff0000" font-size="14.7">(c)</text>
<text x="181.30" y="342.80" fill="#ff0000" font-size="21.0" class="i">r<tspan font-size="14.5" font-style="normal" dy="8.0" dx="-0.8">m</tspan><tspan dy="-8.0" dx="-0.4">&#8203;</tspan>(T)</text>
<text x="274.50" y="131.70" fill="#ff00ff" font-size="13.7">(c)</text>
<text x="294.20" y="131.70" fill="#ff00ff" font-size="19.0" class="i">∂r<tspan font-size="12.5" font-style="normal" dy="4.5" dx="0.7">b</tspan><tspan dy="-4.5" dx="0.0">&#8203;</tspan><tspan font-style="normal" dx="-0.2">/</tspan><tspan dx="-2.7">∂</tspan>μ<tspan font-size="12.5" font-style="normal" dy="4.5" dx="1.5">B</tspan><tspan dy="-4.5" dx="0.0">&#8203;</tspan></text>
<text x="370.30" y="68.00" fill="#009933" font-size="14.0">(d)</text>
<text x="392.00" y="68.00" fill="#009933" font-size="19.5" class="i">r(T,μ<tspan font-size="14.5" font-style="normal" dy="8.0" dx="0.2">B</tspan><tspan dy="-8.0" dx="-0.5">&#8203;</tspan>)</text>
<text x="411.00" y="334.90" fill="#33cc33" font-size="13.5">(d)</text>
<text x="431.80" y="334.90" fill="#33cc33" font-size="19.0" class="i">∂r<tspan font-style="normal" dx="0.4">/</tspan><tspan dx="-1.5">∂</tspan>μ<tspan font-size="12.5" font-style="normal" dy="5.4" dx="-0.1">B</tspan><tspan dy="-5.4" dx="0.0">&#8203;</tspan></text>
<text class="u" x="141.3" y="260">Crossover</text>
<text class="u" x="388.6" y="254.7">1st order transition</text>
<text x="259.2" y="338.2" font-size="16" font-weight="bold">C.P.</text>
</svg></body></html>
